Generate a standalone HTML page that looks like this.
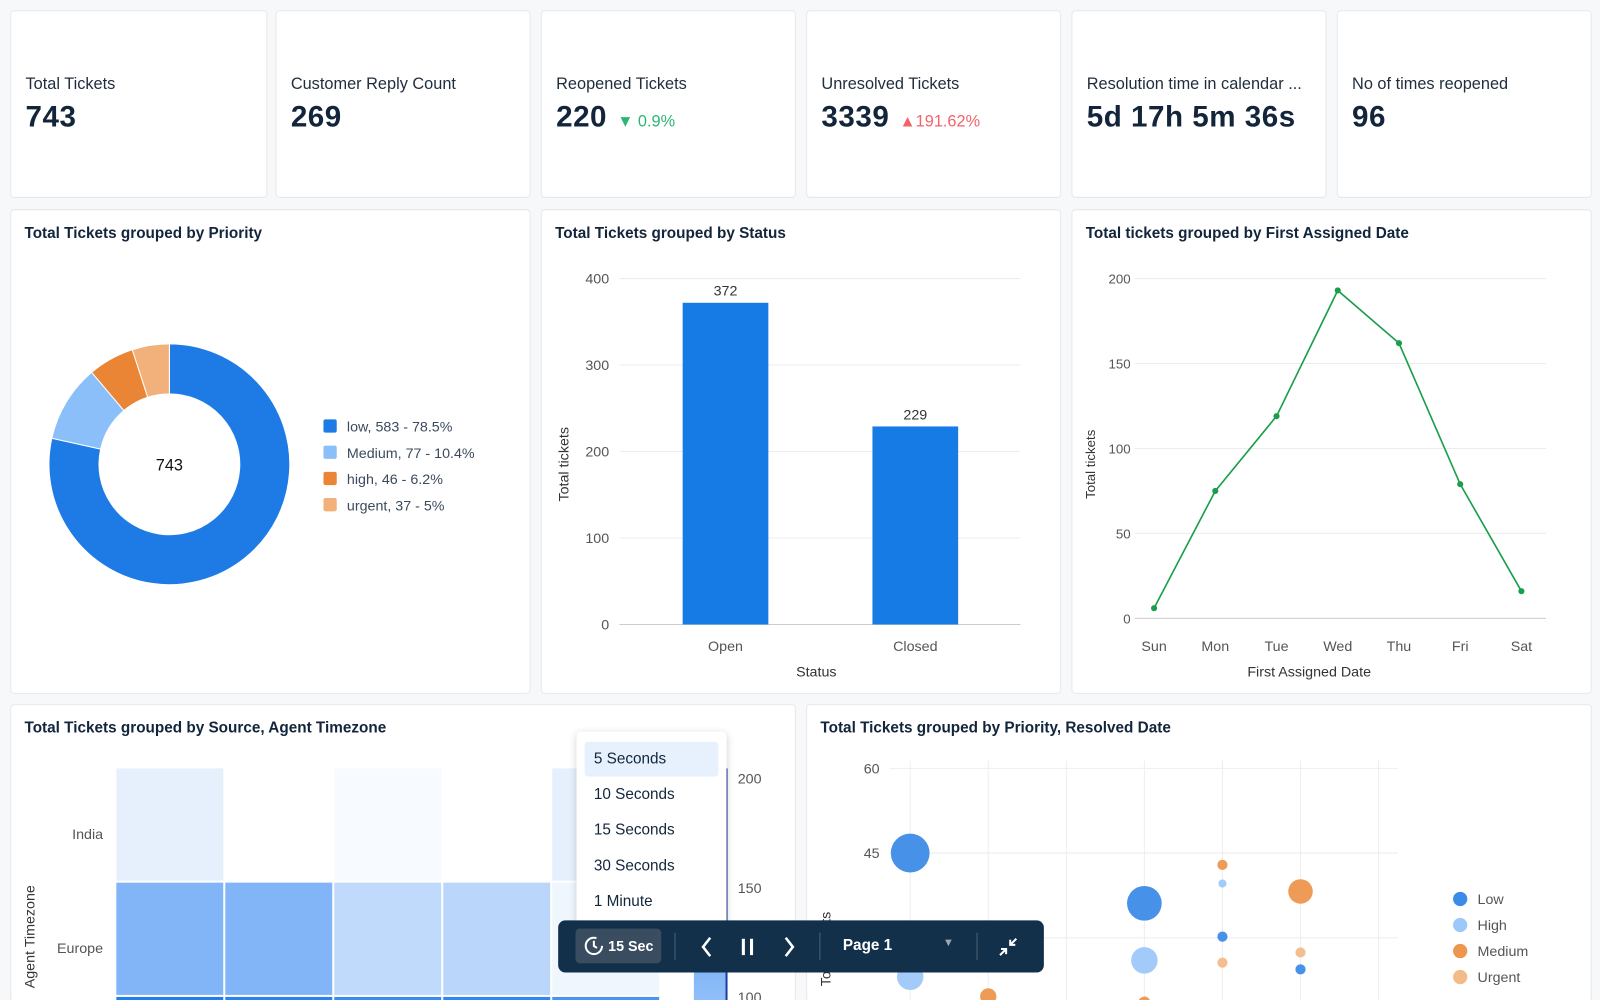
<!DOCTYPE html>
<html><head><meta charset="utf-8">
<style>
*{box-sizing:border-box;margin:0;padding:0}
body{width:1600px;height:1000px;overflow:hidden;background:#f7f8f9;font-family:"Liberation Sans",sans-serif;color:#1b2a3d;position:relative}
#root{position:absolute;left:0;top:0;width:1568px;height:980px;transform:scale(1.0204);transform-origin:0 0;overflow:hidden}
.card{position:absolute;background:#fff;border:1px solid #e6e8eb;border-radius:4px}
.kt{position:absolute;left:14px;top:63px;font-size:16px;color:#1f2d3d}
.kv{position:absolute;left:14px;top:88px;font-size:29px;font-weight:bold;color:#12253b;letter-spacing:0.5px}
.kd{font-size:16px;font-weight:normal;margin-left:10px;letter-spacing:0}
.ct{position:absolute;left:13px;top:14px;font-size:15px;font-weight:bold;color:#12253b}
svg text{font-family:"Liberation Sans",sans-serif}
#pop{position:absolute;left:565px;top:717px;width:147px;height:193px;background:#fff;border-radius:4px;box-shadow:0 2px 8px rgba(0,0,0,.18)}
.opt{position:absolute;left:8px;width:131px;height:34px;line-height:34px;padding-left:9px;font-size:15px;color:#12253b;border-radius:3px}
#bar{position:absolute;left:547px;top:902px;width:476px;height:51px;background:#13304a;border-radius:7px;color:#fff}
</style></head><body>
<div id="root">
<div class="card" style="left:10px;top:10px;width:252px;height:184px"><div class="kt">Total Tickets</div><div class="kv">743</div></div>
<div class="card" style="left:270px;top:10px;width:250px;height:184px"><div class="kt">Customer Reply Count</div><div class="kv">269</div></div>
<div class="card" style="left:530px;top:10px;width:250px;height:184px"><div class="kt">Reopened Tickets</div><div class="kv">220<span class="kd" style="color:#2bb673">▼ 0.9%</span></div></div>
<div class="card" style="left:790px;top:10px;width:250px;height:184px"><div class="kt">Unresolved Tickets</div><div class="kv">3339<span class="kd" style="color:#f2636b">▲191.62%</span></div></div>
<div class="card" style="left:1050px;top:10px;width:250px;height:184px"><div class="kt">Resolution time in calendar ...</div><div class="kv">5d 17h 5m 36s</div></div>
<div class="card" style="left:1310px;top:10px;width:250px;height:184px"><div class="kt">No of times reopened</div><div class="kv">96</div></div>

<div class="card" style="left:10px;top:205px;width:510px;height:475px"><div class="ct">Total Tickets grouped by Priority</div></div>
<div class="card" style="left:530px;top:205px;width:510px;height:475px"><div class="ct">Total Tickets grouped by Status</div></div>
<div class="card" style="left:1050px;top:205px;width:510px;height:475px"><div class="ct">Total tickets grouped by First Assigned Date</div></div>
<div class="card" style="left:10px;top:690px;width:770px;height:292px"><div class="ct">Total Tickets grouped by Source, Agent Timezone</div></div>
<div class="card" style="left:790px;top:690px;width:770px;height:292px"><div class="ct">Total Tickets grouped by Priority, Resolved Date</div></div>

<svg id="s" width="1568" height="980" style="position:absolute;left:0;top:0"></svg>

<div id="pop">
<div class="opt" style="top:10px;background:#e6f1fd">5 Seconds</div>
<div class="opt" style="top:45px">10 Seconds</div>
<div class="opt" style="top:80px">15 Seconds</div>
<div class="opt" style="top:115px">30 Seconds</div>
<div class="opt" style="top:150px">1 Minute</div>
</div>
<div id="bar">
<div style="position:absolute;left:17px;top:8px;width:84px;height:34px;background:#3a4d60;border-radius:4px;font-size:14px;font-weight:bold;line-height:34px;padding-left:32px">15 Sec
<svg width="22" height="22" style="position:absolute;left:7px;top:6px"><circle cx="11" cy="11" r="8" fill="none" stroke="#fff" stroke-width="2" stroke-dasharray="40 10"/><path d="M11 6v5l3 2" fill="none" stroke="#fff" stroke-width="2"/></svg></div>
<div style="position:absolute;left:114px;top:12px;width:1px;height:27px;background:#4d6073"></div>
<svg width="20" height="24" style="position:absolute;left:136px;top:14px"><path d="M13 3L6 12l7 9" fill="none" stroke="#fff" stroke-width="2.5"/></svg>
<svg width="20" height="24" style="position:absolute;left:176px;top:14px"><rect x="4" y="4" width="3" height="16" fill="#fff"/><rect x="12" y="4" width="3" height="16" fill="#fff"/></svg>
<svg width="20" height="24" style="position:absolute;left:216px;top:14px"><path d="M7 3l7 9-7 9" fill="none" stroke="#fff" stroke-width="2.5"/></svg>
<div style="position:absolute;left:256px;top:12px;width:1px;height:27px;background:#4d6073"></div>
<div style="position:absolute;left:279px;top:16px;font-size:15px;font-weight:bold">Page 1</div>
<div style="position:absolute;left:377px;top:16px;font-size:11px;color:#9aa7b4">▼</div>
<div style="position:absolute;left:410px;top:12px;width:1px;height:27px;background:#4d6073"></div>
<svg width="24" height="24" style="position:absolute;left:429px;top:14px"><path d="M4 20l6-6M5 14h5v5M20 4l-6 6M19 10h-5V5" fill="none" stroke="#fff" stroke-width="2"/></svg>
</div>
</div>

<script>
const NS="http://www.w3.org/2000/svg";const S=document.getElementById('s');
function el(t,a,txt){const e=document.createElementNS(NS,t);for(const k in a)e.setAttribute(k,a[k]);if(txt!==undefined)e.textContent=txt;S.appendChild(e);return e;}

// Donut
const pLabels=["low, 583 - 78.5%","Medium, 77 -  10.4%","high, 46 -  6.2%","urgent, 37 -  5%"];
const pValues=[583,77,46,37];
const pColors=["#1e7be6","#8bbff9","#e98534","#f2b07a"];
(function(){const cx=166,cy=455,R=118,r=69;const tot=pValues.reduce((a,b)=>a+b,0);let a0=-Math.PI/2;
pValues.forEach((v,i)=>{const a1=a0+v/tot*2*Math.PI;const L=(a1-a0)>Math.PI?1:0;
const p=`M${cx+R*Math.cos(a0)} ${cy+R*Math.sin(a0)}A${R} ${R} 0 ${L} 1 ${cx+R*Math.cos(a1)} ${cy+R*Math.sin(a1)}L${cx+r*Math.cos(a1)} ${cy+r*Math.sin(a1)}A${r} ${r} 0 ${L} 0 ${cx+r*Math.cos(a0)} ${cy+r*Math.sin(a0)}Z`;
const s=el('path',{d:p,fill:pColors[i],stroke:'#fff','stroke-width':1});


const q=el('rect',{x:317,y:411+i*25.7,width:13,height:13,rx:2,fill:pColors[i]});


const t=el('text',{x:340,y:423+i*25.7,'font-size':14,fill:'#3b4a5c'},pLabels[i]);


a0=a1;});
const c=el('text',{x:cx,y:cy+6,'font-size':16,'text-anchor':'middle',fill:'#111'},String(tot));

})();

// Bar chart
const bCats=["Open","Closed"];const bVals=[372,229];const bTicks=[0,100,200,300,400];
(function(){const y=v=>612-v*339/400;const x=i=>711+i*186;
bTicks.forEach(t=>{el('line',{x1:607,x2:1000,y1:y(t),y2:y(t),stroke:t?'#ececec':'#ccc'});el('text',{x:597,y:y(t)+5,'font-size':14,'text-anchor':'end',fill:'#555'},t);});
bVals.forEach((v,i)=>{const r=el('rect',{x:x(i)-42,y:y(v),width:84,height:y(0)-y(v),fill:'#177be6'});


el('text',{x:x(i),y:y(v)-7,'font-size':14,'text-anchor':'middle',fill:'#333'},v);
el('text',{x:x(i),y:638,'font-size':14,'text-anchor':'middle',fill:'#555'},bCats[i]);});
el('text',{x:800,y:663,'font-size':14,'text-anchor':'middle',fill:'#333'},'Status');
el('text',{x:0,y:0,'font-size':14,'text-anchor':'middle',fill:'#333',transform:'translate(557,455) rotate(-90)'},'Total tickets');})();

// Line chart
const lCats=["Sun","Mon","Tue","Wed","Thu","Fri","Sat"];const lVals=[6,75,119,193,162,79,16];const lTicks=[0,50,100,150,200];
(function(){const y=v=>606-v*333/200;const x=i=>1131+i*60;
lTicks.forEach(t=>{el('line',{x1:1112,x2:1515,y1:y(t),y2:y(t),stroke:t?'#ececec':'#ccc'});el('text',{x:1108,y:y(t)+5,'font-size':13,'text-anchor':'end',fill:'#555'},t);});
lCats.forEach((c,i)=>el('text',{x:x(i),y:638,'font-size':14,'text-anchor':'middle',fill:'#555'},c));
const ln=el('polyline',{points:lVals.map((v,i)=>x(i)+','+y(v)).join(' '),fill:'none',stroke:'#1a9e4b','stroke-width':1.6});


lVals.forEach((v,i)=>{const p=el('circle',{cx:x(i),cy:y(v),r:3,fill:'#1a9e4b'});

});
el('text',{x:1283,y:663,'font-size':14,'text-anchor':'middle',fill:'#333'},'First Assigned Date');
el('text',{x:0,y:0,'font-size':13,'text-anchor':'middle',fill:'#333',transform:'translate(1073,455) rotate(-90)'},'Total tickets');})();

// Heatmap
const hRows=["India","Europe","America"];
const hVals=[[106,90,95,90,106],[170,170,130,134,100],[230,225,215,220,205]];
const hTicks=[100,150,200];
(function(){const x0=114,cw=106.8,y0=753,rh=112;const col=v=>{const t=Math.max(0,Math.min(1,(v-90)/(235-90)));const a=[255,255,255],b=[26,120,240];return `rgb(${a.map((c,i)=>Math.round(c+(b[i]-c)*t)).join(',')})`;};
hVals.forEach((row,r)=>row.forEach((v,c)=>{const e=el('rect',{x:x0+c*cw,y:y0+r*rh,width:cw-2,height:rh-2,fill:col(v)});

}));
hRows.forEach((n,r)=>{if(r<2)el('text',{x:101,y:y0+r*rh+69,'font-size':14,'text-anchor':'end',fill:'#555'},n);});
el('text',{x:0,y:0,'font-size':14,'text-anchor':'middle',fill:'#333',transform:'translate(34,918) rotate(-90)'},'Agent Timezone');
const g=document.createElementNS(NS,'linearGradient');g.id='hg';g.setAttribute('x1','0');g.setAttribute('y1','0');g.setAttribute('x2','0');g.setAttribute('y2','1');
[[0,col(225)],[1,col(160)]].forEach(([o,c])=>{const s=document.createElementNS(NS,'stop');s.setAttribute('offset',o);s.setAttribute('stop-color',c);g.appendChild(s);});
const d=document.createElementNS(NS,'defs');d.appendChild(g);S.appendChild(d);
el('rect',{x:680,y:755,width:32,height:225,fill:'url(#hg)'});
el('line',{x1:712,x2:712,y1:753,y2:980,stroke:'#1d3fa0','stroke-width':2});
const ly=v=>763+(200-v)*107/50;
hTicks.forEach(t=>el('text',{x:723,y:ly(t)+5,'font-size':14,fill:'#555'},t));})();

// Bubble chart
const bubDates=[0,1,2,3,4,5,6];
const bubLow=[[0,45,19],[3,36.1,17],[4,30.2,5],[5,24.4,5]];
const bubHigh=[[0,23.1,13],[3,26,13],[4,39.6,4]];
const bubMedium=[[4,42.9,5],[5,38.2,12],[1,19.6,8],[3,18.5,6]];
const bubUrgent=[[4,25.6,5],[5,27.4,5]];
const bubTicks=[30,45,60];
(function(){const x=i=>892+i*76.5;const y=v=>919-(v-30)*83/15;
bubDates.forEach(i=>el('line',{x1:x(i),x2:x(i),y1:745,y2:980,stroke:'#eeeeee'}));
bubTicks.forEach(t=>{el('line',{x1:872,x2:1370,y1:y(t),y2:y(t),stroke:'#eeeeee'});if(t>30)el('text',{x:862,y:y(t)+5,'font-size':14,'text-anchor':'end',fill:'#555'},t);});
const series=[["Low",bubLow,"#3d8be8"],["High",bubHigh,"#9dc8fa"],["Medium",bubMedium,"#ec964e"],["Urgent",bubUrgent,"#f4bb8a"]];
series.forEach(([n,d,c],k)=>{d.forEach(p=>{const b=el('circle',{cx:x(p[0]),cy:y(p[1]),r:p[2],fill:c,'fill-opacity':0.95});

});
el('circle',{cx:1431,cy:881+k*25.5,r:7,fill:c});
const t=el('text',{x:1448,y:886+k*25.5,'font-size':14,fill:'#555'},n);

});
el('text',{x:0,y:0,'font-size':14,'text-anchor':'middle',fill:'#333',transform:'translate(814,930) rotate(-90)'},'Total tickets');})();
</script>
</body></html>
